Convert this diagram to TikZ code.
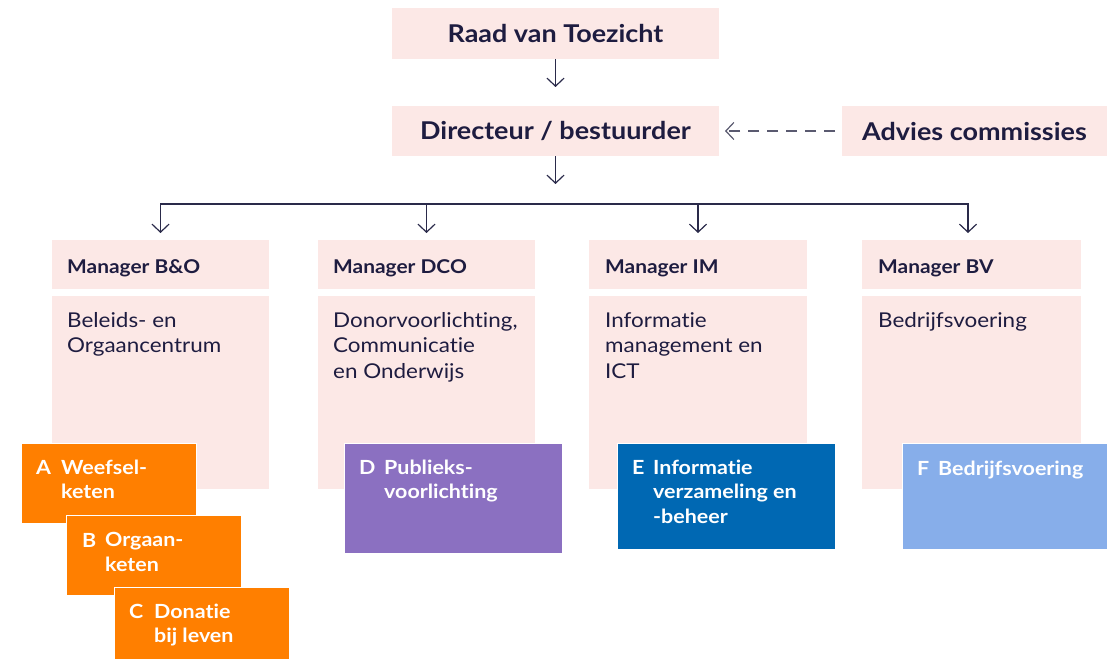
\documentclass[tikz,border=0pt]{standalone}
\usepackage{fontspec}
\setmainfont{Lato}[FakeStretch=1.1, Ligatures=NoCommon]
\usetikzlibrary{arrows.meta}

\definecolor{ink}{HTML}{1E1C40}
\definecolor{linecol}{HTML}{2A2A4A}
\definecolor{dashcol}{HTML}{5A5A70}
\definecolor{pinkbg}{HTML}{FCE8E6}
\definecolor{unitorange}{HTML}{FF7F00}
\definecolor{unitpurple}{HTML}{8B70C1}
\definecolor{unitblue}{HTML}{0068B3}
\definecolor{unitsky}{HTML}{87AEEA}

\begin{document}
\begin{tikzpicture}[x=1pt,y=-1pt,
  box/.style={inner sep=0pt, outer sep=0pt, anchor=north west},
  pinkbox/.style={box, fill=pinkbg, text=ink},
  unitbox/.style={box, draw=white, line width=0.8pt},
  titletext/.style={font=\fontsize{24.5}{28}\bfseries\selectfont, text=ink},
  hdrtext/.style={anchor=base west, inner sep=0pt, font=\fontsize{19}{24}\bfseries\selectfont, text=ink},
  bodytext/.style={anchor=base west, inner sep=0pt, align=left, font=\fontsize{20.4}{25.5}\selectfont, text=ink},
  unittext/.style={anchor=base west, inner sep=0pt, align=left, font=\fontsize{19.5}{24.5}\bfseries\selectfont, text=white},
  conn/.style={draw=linecol, line width=1.2pt, -{Straight Barb[length=8pt,width=17pt,line width=1.2pt]}},
  advice/.style={draw=dashcol, line width=1.2pt, dash pattern=on 11pt off 8pt, -{Straight Barb[length=8pt,width=17pt,line width=1.2pt,sep=-4pt]}}
]
\useasboundingbox (0,0) rectangle (1107,658);

% top level
\node[pinkbox, minimum width=327pt, minimum height=51pt, titletext] (raad) at (392,8) {Raad van Toezicht};
\node[pinkbox, minimum width=327pt, minimum height=50pt, titletext] (dir) at (392,106) {Directeur / bestuurder};
\node[pinkbox, minimum width=265pt, minimum height=50pt, titletext] (adv) at (842,106) {Advies commissies};

\draw[conn, shorten >=19pt] (raad) -- (dir);
\draw[advice, shorten <=7pt, shorten >=10pt] (adv) -- (dir);

% bus to the managers
\coordinate (busc) at (555.5,204);
\coordinate (busL) at (160.5,204);
\coordinate (busB) at (426.5,204);
\coordinate (busC) at (698,204);
\coordinate (busR) at (968,204);
\draw[conn, shorten >=20pt] (dir) -- (busc);

% manager headers
\node[pinkbox, minimum width=217pt, minimum height=49pt] (mA) at (52,240) {};
\node[pinkbox, minimum width=217pt, minimum height=49pt] (mB) at (318,240) {};
\node[pinkbox, minimum width=218pt, minimum height=49pt] (mC) at (589,240) {};
\node[pinkbox, minimum width=219pt, minimum height=49pt] (mD) at (862,240) {};
\coordinate (tipD) at (968,240);

\draw[conn, shorten >=7pt] (busR) -| (mA.north);
\draw[conn, shorten >=7pt] (busL) -| (tipD);
\draw[conn, shorten >=7pt] (busB) -- (mB.north);
\draw[conn, shorten >=7pt] (busC) -- (mC.north);

\node[hdrtext] (mAt) at (67,273) {Manager B\&O};
\node[hdrtext] (mBt) at (333,273) {Manager DCO};
\node[hdrtext] (mCt) at (605,273) {Manager IM};
\node[hdrtext] (mDt) at (878,273) {Manager BV};

% manager bodies (multi-line texts are placed by their last baseline)
\node[pinkbox, minimum width=217pt, minimum height=193pt] (bA) at (52,296) {};
\node[pinkbox, minimum width=217pt, minimum height=193pt] (bB) at (318,296) {};
\node[pinkbox, minimum width=218pt, minimum height=193pt] (bC) at (589,296) {};
\node[pinkbox, minimum width=219pt, minimum height=193pt] (bD) at (862,296) {};

\node[bodytext] (bAt) at (67,352.5) {Beleids- en\\Orgaancentrum};
\node[bodytext] (bBt) at (333,378) {Donorvoorlichting,\\Communicatie\\en Onderwijs};
\node[bodytext] (bCt) at (605,378) {Informatie\\management en\\ICT};
\node[bodytext] (bDt) at (878,327) {Bedrijfsvoering};

% units
\node[unitbox, fill=unitorange, minimum width=175pt, minimum height=80pt] (uA) at (21,443) {};
\node[unittext] (uAl) at (36,474) {A};
\node[unittext] (uAt) at (61,498.5) {Weefsel-\\keten};

\node[unitbox, fill=unitorange, minimum width=175pt, minimum height=80pt] (uB) at (66,515) {};
\node[unittext] (uBl) at (82,547) {B};
\node[unittext] (uBt) at (105,571) {Orgaan-\\keten};

\node[unitbox, fill=unitorange, minimum width=175pt, minimum height=80pt] (uC) at (114,587) {};
\node[unittext] (uCl) at (129,618) {C};
\node[unittext] (uCt) at (154,642.5) {Donatie\\bij leven};

\node[unitbox, fill=unitpurple, minimum width=218pt, minimum height=110pt] (uD) at (344,443) {};
\node[unittext] (uDl) at (359,474) {D};
\node[unittext] (uDt) at (384,498.5) {Publieks-\\voorlichting};

\node[unitbox, fill=unitblue, minimum width=218pt, minimum height=106pt] (uE) at (617,443) {};
\node[unittext] (uEl) at (632,474) {E};
\node[unittext] (uEt) at (653,523) {Informatie\\verzameling en\\-beheer};

\node[unitbox, fill=unitsky, minimum width=210pt, minimum height=106pt] (uF) at (902,443) {};
\node[unittext] (uFl) at (917,475) {F};
\node[unittext] (uFt) at (938,475) {Bedrijfsvoering};
\end{tikzpicture}
\end{document}
